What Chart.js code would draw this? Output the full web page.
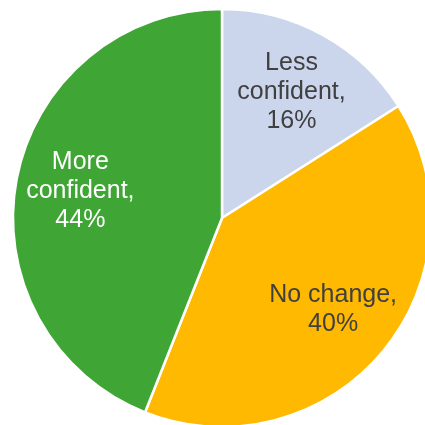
<!DOCTYPE html>
<html>
<head>
<meta charset="utf-8">
<script src="https://cdn.jsdelivr.net/npm/chart.js@4"></script>
<style>
  html, body { margin: 0; padding: 0; background: #ffffff; }
  #wrap { width: 425px; height: 425px; position: relative; }
</style>
</head>
<body>
<div id="wrap"><canvas id="pie"></canvas></div>
<script>
// Survey answers, in drawing order from 12 o'clock, clockwise
const categories = ['Less confident', 'No change', 'More confident'];
const shares = [16, 40, 44];
const sliceColors = ['#CBD6EC', '#FFB900', '#3FA535'];
const labelColors = ['#404040', '#404040', '#FFFFFF'];

// Writes "Category, NN%" inside each slice, wrapped over lines
const sliceLabels = {
  id: 'sliceLabels',
  afterDatasetsDraw(chart) {
    const ctx = chart.ctx;
    const meta = chart.getDatasetMeta(0);
    ctx.save();
    ctx.font = '25px "Liberation Sans", Arial, sans-serif';
    ctx.textAlign = 'center';
    ctx.textBaseline = 'middle';
    meta.data.forEach((arc, i) => {
      const p = arc.getProps(['x', 'y', 'startAngle', 'endAngle', 'outerRadius'], true);
      const mid = (p.startAngle + p.endAngle) / 2;
      const r = p.outerRadius * 0.69;
      const cx = p.x + Math.cos(mid) * r;
      const cy = p.y + Math.sin(mid) * r;
      const words = categories[i].split(' ');
      const lines = [];
      if (words.length > 1 && categories[i] !== 'No change') {
        lines.push(words[0]);
        lines.push(words.slice(1).join(' ') + ',');
      } else {
        lines.push(categories[i] + ',');
      }
      lines.push(shares[i] + '%');
      const lh = 29;
      const top = cy - (lines.length - 1) * lh / 2;
      ctx.fillStyle = labelColors[i];
      lines.forEach((t, k) => ctx.fillText(t, cx, top + k * lh));
    });
    ctx.restore();
  }
};

new Chart(document.getElementById('pie'), {
  type: 'pie',
  data: {
    labels: categories,
    datasets: [{
      data: shares,
      backgroundColor: sliceColors,
      borderColor: '#FFFFFF',
      borderWidth: 2.5,
      clip: false,
      radius: 209
    }]
  },
  options: {
    responsive: true,
    maintainAspectRatio: false,
    animation: false,
    layout: { padding: { left: 19, right: 0, top: 11, bottom: 0 } },
    plugins: {
      legend: { display: false },
      tooltip: { enabled: false }
    }
  },
  plugins: [sliceLabels]
});
</script>
</body>
</html>
